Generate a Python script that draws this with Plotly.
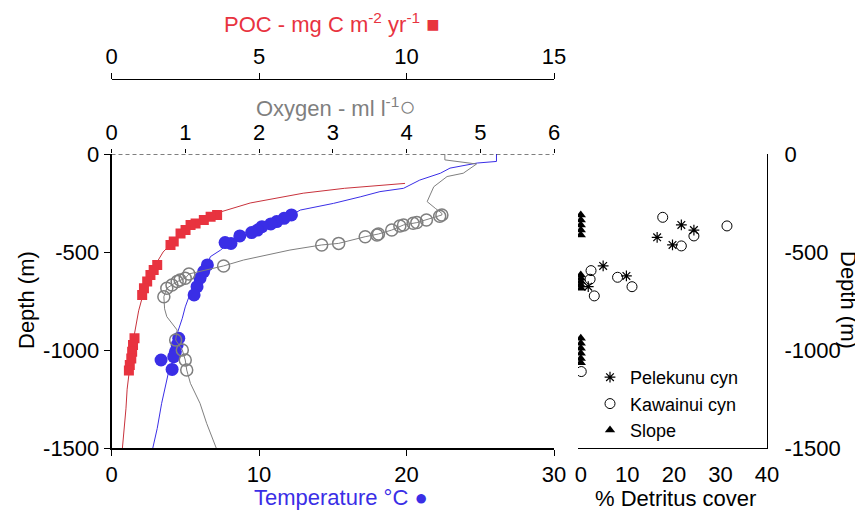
import plotly.graph_objects as go

# ---------------- data ----------------
# POC flux squares (mg C m-2 yr-1) vs depth (m)
poc_val = [3.58, 3.36, 3.13, 2.85, 2.68, 2.51, 2.34, 2.11, 2.00, 1.55, 1.43, 1.32, 1.21, 1.10, 1.04,
           0.78, 0.73, 0.70, 0.67, 0.62, 0.59]
poc_depth = [-311, -320, -337, -354, -362, -388, -405, -447, -464, -566, -592, -617, -651, -685, -719,
             -940, -974, -1009, -1043, -1077, -1105]
# POC model curve
poc_curve_val = [9.95, 7.9, 6.5, 4.7, 3.6, 2.9, 2.4, 1.75, 1.35, 1.1, 0.92, 0.79, 0.68, 0.61, 0.53, 0.49, 0.42, 0.37]
poc_curve_depth = [-150, -175, -200, -250, -300, -350, -400, -500, -600, -700, -800, -900, -1000, -1100,
                   -1200, -1300, -1400, -1500]

# Temperature (deg C) samples
temp_val = [12.2, 11.7, 11.2, 10.8, 10.2, 9.9, 9.5, 8.7, 8.1, 7.7, 6.5, 6.25, 6.0, 5.8, 5.6,
            4.56, 4.45, 4.33, 4.22, 3.36, 4.11]
temp_depth = [-311, -328, -345, -357, -371, -388, -401, -418, -456, -452, -566, -600, -634, -677, -719,
              -940, -974, -1009, -1034, -1051, -1099]
# Temperature profile (CTD)
temp_prof_val = [26.1, 26.1, 24.8, 22.95, 22.3, 20.9, 19.8, 18.2, 16.9, 15.05, 12.8, 12.2, 11.6, 11.1,
                 10.2, 9.8, 9.4, 8.7, 8.2, 7.9, 7.4, 6.7, 6.5, 6.2, 6.0, 5.8, 5.3, 5.0, 4.8, 4.5, 4.55,
                 4.35, 4.2, 3.9, 3.6, 3.4, 3.1, 2.8]
temp_prof_depth = [0, -38, -46, -72, -98, -133, -175, -192, -218, -252, -286, -311, -330, -350, -370,
                   -390, -405, -418, -440, -456, -490, -524, -566, -600, -634, -677, -719, -780, -838,
                   -906, -940, -1000, -1050, -1102, -1200, -1272, -1400, -1500]

# Oxygen (ml l-1) samples
oxy_val = [4.48, 4.45, 4.27, 4.14, 4.09, 3.96, 3.91, 3.80, 3.62, 3.60, 3.44, 3.08, 2.85, 1.52,
           1.05, 1.00, 0.93, 0.89, 0.82, 0.75, 0.71, 0.87, 0.96, 1.00, 1.02]
oxy_depth = [-311, -318, -337, -350, -353, -362, -367, -388, -408, -413, -422, -456, -464, -571,
             -612, -634, -643, -651, -668, -685, -728, -949, -1000, -1051, -1102]
# Oxygen profile
oxy_prof_val = [4.52, 4.52, 4.95, 4.77, 4.55, 4.37, 4.32, 4.28, 4.39, 4.48, 4.48, 4.27, 4.14, 3.96,
                3.80, 3.62, 3.44, 3.08, 2.85, 2.42, 2.10, 1.79, 1.52, 1.05, 1.00, 0.89, 0.82, 0.75,
                0.71, 0.72, 0.75, 0.89, 0.87, 0.96, 1.00, 1.02, 1.07, 1.20, 1.29, 1.42]
oxy_prof_depth = [0, -30, -51, -98, -115, -167, -209, -243, -277, -303, -311, -337, -350, -362,
                  -388, -408, -422, -456, -464, -490, -515, -541, -571, -612, -634, -651, -668, -685,
                  -728, -790, -830, -898, -949, -1000, -1051, -1102, -1170, -1272, -1374, -1500]

# % Detritus cover
pel_cover = [21.6, 24.3, 16.4, 19.7, 4.8, 9.8, 1.6]
pel_depth = [-362, -388, -425, -464, -571, -622, -677]
kaw_cover = [17.6, 31.4, 24.3, 21.6, 2.2, 2.0, 7.9, 11.0, 2.9, 0.1]
kaw_depth = [-323, -367, -418, -469, -595, -639, -629, -677, -724, -1110]
slope_cover = [0, 0, 0, 0, 0, 0, 0, 0, 0, 0, 0, 0, 0, 0, 0, 0]
slope_depth = [-311, -337, -362, -388, -413, -617, -634, -651, -668, -685, -940, -966, -991, -1017, -1043, -1065]

depth_ticks = [0, -500, -1000, -1500]
depth_labels = ["0", "-500", "-1000", "-1500"]
temp_ticks = [0, 10, 20, 30]
oxy_ticks = [0, 1, 2, 3, 4, 5, 6]
poc_ticks = [0, 5, 10, 15]
cover_ticks = [0, 10, 20, 30, 40]

# ---------------- styling ----------------
RED = "#e8333f"
REDLINE = "#c8323c"
BLUE = "#3a2ee6"
GREY = "#7f7f7f"
FONT = "Liberation Sans, Arial, sans-serif"
FS = 22
OFF = 8                      # page body margin
W, H = 863 - OFF, 514 - OFF  # figure fits in the window

def px(x):
    return (x - OFF) / W

def py(y):
    return 1 - (y - OFF) / H

XL0, XL1 = px(111.5), px(554)
XR0, XR1 = px(578), px(767)
Y0, Y1 = py(448), py(154)

fig = go.Figure()

# left panel lines
fig.add_trace(go.Scatter(x=poc_curve_val, y=poc_curve_depth, xaxis="x3", yaxis="y", mode="lines",
                         line=dict(color=REDLINE, width=1), showlegend=False))
fig.add_trace(go.Scatter(x=temp_prof_val, y=temp_prof_depth, xaxis="x", yaxis="y", mode="lines",
                         line=dict(color=BLUE, width=1), showlegend=False))
fig.add_trace(go.Scatter(x=oxy_prof_val, y=oxy_prof_depth, xaxis="x2", yaxis="y", mode="lines",
                         line=dict(color=GREY, width=1), showlegend=False))
# left panel markers
fig.add_trace(go.Scatter(x=poc_val, y=poc_depth, xaxis="x3", yaxis="y", mode="markers",
                         marker=dict(symbol="square", size=10, color=RED), showlegend=False))
fig.add_trace(go.Scatter(x=temp_val, y=temp_depth, xaxis="x", yaxis="y", mode="markers",
                         marker=dict(symbol="circle", size=13, color=BLUE), showlegend=False))
fig.add_trace(go.Scatter(x=oxy_val, y=oxy_depth, xaxis="x2", yaxis="y", mode="markers",
                         marker=dict(symbol="circle-open", size=12, color=GREY, line=dict(width=1.5)),
                         showlegend=False))

# right panel
fig.add_trace(go.Scatter(x=pel_cover, y=pel_depth, xaxis="x4", yaxis="y2", mode="markers",
                         name="Pelekunu cyn",
                         marker=dict(symbol="asterisk-open", size=9, color="black", line=dict(width=1.2, color="black"))))
fig.add_trace(go.Scatter(x=kaw_cover, y=kaw_depth, xaxis="x4", yaxis="y2", mode="markers",
                         name="Kawainui cyn",
                         marker=dict(symbol="circle-open", size=10, color="black", line=dict(width=1, color="black"))))
fig.add_trace(go.Scatter(x=slope_cover, y=slope_depth, xaxis="x4", yaxis="y2", mode="markers",
                         name="Slope",
                         marker=dict(symbol="triangle-up", size=9, color="black")))

tickfont = dict(family=FONT, size=FS, color="black")
common = dict(showgrid=False, zeroline=False, tickfont=tickfont, automargin=False, tickcolor="black")

fig.update_layout(
    width=W, height=H,
    margin=dict(l=0, r=0, t=0, b=0, autoexpand=False),
    paper_bgcolor="white", plot_bgcolor="white",
    font=dict(family=FONT, size=FS, color="black"),
    xaxis=dict(domain=[XL0, XL1], range=[0, 30], anchor="y", tickvals=temp_ticks,
               showline=True, linecolor="black", linewidth=1.5, ticks="outside", ticklen=6, **common),
    xaxis2=dict(overlaying="x", side="top", anchor="y", range=[0, 6], tickvals=oxy_ticks,
                showline=False, ticks="outside", ticklen=4, **common),
    xaxis3=dict(overlaying="x", side="top", anchor="free", position=py(79), range=[0, 15],
                tickvals=poc_ticks, showline=True, linecolor="black", linewidth=1.2,
                ticks="outside", ticklen=6, **common),
    yaxis=dict(domain=[Y0, Y1], range=[-1500, 0], anchor="x", tickvals=depth_ticks, ticktext=depth_labels,
               showline=True, linecolor="black", linewidth=1.5, ticks="outside", ticklen=6, **common),
    xaxis4=dict(domain=[XR0, XR1], range=[-0.6, 40], anchor="y2", tickvals=cover_ticks,
                showline=True, linecolor="black", linewidth=1.2, ticks="", ticklabelstandoff=6, **common),
    yaxis2=dict(domain=[Y0, Y1], range=[-1500, 0], anchor="x4", side="right", tickvals=depth_ticks,
                ticktext=depth_labels, showline=True, linecolor="black", linewidth=1.2, ticks="",
                ticklabelstandoff=12, **common),
    legend=dict(x=px(590), y=py(359), xanchor="left", yanchor="top", bgcolor="rgba(0,0,0,0)",
                font=dict(family=FONT, size=18, color="black"), itemwidth=30, tracegroupgap=0),
)

# dashed sea-surface line
fig.add_shape(type="line", xref="paper", yref="y", x0=XL0, x1=XL1, y0=0, y1=0, layer="above",
              line=dict(color="black", width=1.2, dash="4px,3px"))

# axis titles
ann = [
    dict(text="POC - mg C m<sup>-2</sup> yr<sup>-1</sup> <span style='color:%s'>■</span>" % RED,
         x=px(331), y=py(23), font=dict(color=RED, size=FS)),
    dict(text="Oxygen - ml l<sup>-1</sup><span style='font-size:28px'>○</span>", x=px(336), y=py(106),
         font=dict(color=GREY, size=FS)),
    dict(text="Temperature °C ●", x=px(341), y=py(497), font=dict(color=BLUE, size=FS)),
    dict(text="% Detritus cover", x=px(675), y=py(498), font=dict(color="black", size=FS)),
    dict(text="Depth (m)", x=px(26), y=py(300), textangle=-90, font=dict(color="black", size=FS)),
    dict(text="Depth (m)", x=px(849), y=py(300), textangle=90, font=dict(color="black", size=FS)),
]
for a in ann:
    fig.add_annotation(xref="paper", yref="paper", showarrow=False, xanchor="center", yanchor="middle", **a)

fig.write_html("out.html")
